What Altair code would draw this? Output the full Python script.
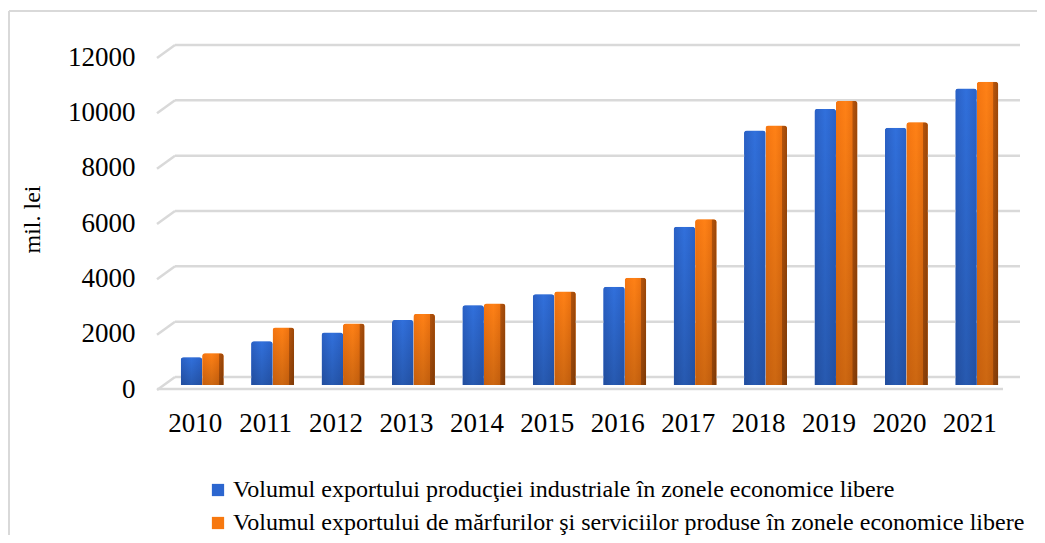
import altair as alt
import pandas as pd

years = ["2010", "2011", "2012", "2013", "2014", "2015", "2016", "2017", "2018", "2019", "2020", "2021"]
series_names = [
    "Volumul exportului producţiei industriale în zonele economice libere",
    "Volumul exportului de mărfurilor şi serviciilor produse în zonele economice libere",
]
industrial = [1000, 1580, 1900, 2350, 2880, 3280, 3550, 5720, 9200, 9980, 9300, 10720]
goods_services = [1150, 2080, 2220, 2570, 2950, 3380, 3880, 5990, 9380, 10270, 9500, 10960]
y_ticks = [0, 2000, 4000, 6000, 8000, 10000, 12000]
colors = ["#2c66cf", "#f7780f"]

rows = []
for i, y in enumerate(years):
    rows.append({"year": y, "series": series_names[0], "value": industrial[i]})
    rows.append({"year": y, "series": series_names[1], "value": goods_services[i]})
df = pd.DataFrame(rows)
grid_df = pd.DataFrame({"v": y_ticks})

FONT = "Liberation Serif"
yscale = alt.Scale(domain=[0, 12000], nice=False)
xenc = alt.X("year:N", sort=years,
             scale=alt.Scale(paddingInner=0.39, paddingOuter=0.195),
             axis=alt.Axis(title=None, labelFont=FONT, labelFontSize=27, labelColor="#000000",
                           labelAngle=0, ticks=False, domain=False, grid=False, labelPadding=25,
                           labelOffset=-7))
xoff = alt.XOffset("series:N", sort=series_names, scale=alt.Scale(paddingInner=0, paddingOuter=0))

bars = alt.Chart(df).mark_bar(cornerRadiusTopLeft=3, cornerRadiusTopRight=3).encode(
    x=xenc,
    xOffset=xoff,
    y=alt.Y("value:Q", scale=yscale,
            axis=alt.Axis(title="mil. lei", titleFont=FONT, titleFontSize=24, titleFontWeight="normal",
                          titleColor="#000000", titlePadding=23, format="d",
                          values=y_ticks, labelFont=FONT, labelFontSize=27, labelColor="#000000",
                          ticks=False, domain=False, grid=False, labelPadding=32, labelOffset=4)),
    color=alt.Color("series:N", sort=series_names,
                    scale=alt.Scale(domain=series_names, range=colors),
                    legend=alt.Legend(title=None, orient="none", legendX=39, legendY=425,
                                      labelFont=FONT, labelFontSize=24, labelColor="#000000",
                                      symbolType="square", symbolSize=150, symbolStrokeWidth=0,
                                      rowPadding=9, labelLimit=1000, symbolOffset=0, labelOffset=3)),
)

grid_back = alt.Chart(grid_df).mark_rule(color="#d9d9d9", strokeWidth=2.5, yOffset=-8).encode(
    y=alt.Y("v:Q", scale=yscale), x=alt.value(8), x2=alt.value(853)
)
grid_slant = alt.Chart(grid_df).mark_rule(color="#d9d9d9", strokeWidth=2.5, yOffset=5, y2Offset=-8).encode(
    y=alt.Y("v:Q", scale=yscale), y2="v:Q", x=alt.value(-10), x2=alt.value(8)
)
floor_front = alt.Chart(grid_df).transform_filter("datum.v == 0").mark_rule(
    color="#d9d9d9", strokeWidth=2.5, yOffset=4).encode(
    y=alt.Y("v:Q", scale=yscale), x=alt.value(-10), x2=alt.value(836)
)

blue_grad = alt.Gradient(gradient="linear", x1=0, x2=1, y1=0, y2=0,
                         stops=[alt.GradientStop(offset=0, color="#2a60c4"),
                                alt.GradientStop(offset=0.5, color="#3170dc"),
                                alt.GradientStop(offset=1, color="#2a62c8")])
orange_grad = alt.Gradient(gradient="linear", x1=0, x2=1, y1=0, y2=0,
                           stops=[alt.GradientStop(offset=0, color="#f57510"),
                                  alt.GradientStop(offset=0.45, color="#ff8116"),
                                  alt.GradientStop(offset=0.76, color="#f07410"),
                                  alt.GradientStop(offset=0.78, color="#b5540c"),
                                  alt.GradientStop(offset=1, color="#9c4708")])

blue_bars = alt.Chart(df).transform_filter(alt.datum.series == series_names[0]).mark_bar(
    cornerRadiusTopLeft=3, cornerRadiusTopRight=3, color=blue_grad).encode(
    x=alt.X("year:N", sort=years), xOffset=xoff, y=alt.Y("value:Q", scale=yscale)
)
orange_bars = alt.Chart(df).transform_filter(alt.datum.series == series_names[1]).mark_bar(
    cornerRadiusTopLeft=3, cornerRadiusTopRight=3, color=orange_grad).encode(
    x=alt.X("year:N", sort=years), xOffset=xoff, y=alt.Y("value:Q", scale=yscale)
)
shade = alt.Chart(df).mark_bar(
    cornerRadiusTopLeft=3, cornerRadiusTopRight=3,
    color=alt.Gradient(gradient="linear", x1=0, x2=0, y1=0, y2=1,
                       stops=[alt.GradientStop(offset=0, color="rgba(0,0,0,0)"),
                              alt.GradientStop(offset=1, color="rgba(0,0,0,0.2)")])).encode(
    x=alt.X("year:N", sort=years), xOffset=xoff, y=alt.Y("value:Q", scale=yscale)
)

frame_left = alt.Chart(grid_df).transform_filter("datum.v == 0").mark_rule(
    color="#d9d9d9", strokeWidth=2).encode(
    x=alt.value(-158), y=alt.value(-42), y2=alt.value(600)
)
frame_top = alt.Chart(grid_df).transform_filter("datum.v == 0").mark_rule(
    color="#d9d9d9", strokeWidth=2).encode(
    x=alt.value(-158), x2=alt.value(900), y=alt.value(-42)
)

chart = alt.layer(
    bars, frame_left, frame_top, grid_back, grid_slant, floor_front, blue_bars, orange_bars, shade
).properties(
    width=845, height=332,
    background="#ffffff",
    autosize=alt.AutoSizeParams(type="none"),
    padding={"left": 159, "top": 45, "right": 25, "bottom": 150},
).configure_view(strokeWidth=0, stroke="transparent").configure_axis(grid=False, domain=False)

chart.save("out.html", embed_options={"renderer": "svg", "actions": False})
